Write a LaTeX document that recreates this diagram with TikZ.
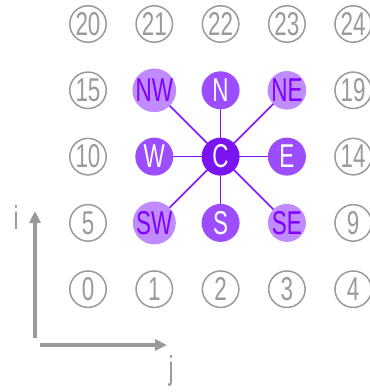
\documentclass[tikz,border=0pt]{standalone}
\usepackage{fontspec}
\setmainfont{Liberation Sans}[FakeStretch=0.68]
\usetikzlibrary{arrows.meta,backgrounds}
\definecolor{gr}{HTML}{9A9A9A}
\definecolor{pc}{HTML}{7B14F2}
\definecolor{pm}{HTML}{9B4DFF}
\definecolor{pl}{HTML}{C08BFF}
\definecolor{pt}{HTML}{7F00FF}
\definecolor{pline}{HTML}{8010FF}
\begin{document}
\begin{tikzpicture}[x=1pt,y=-1pt,
  txt/.style={font=\fontsize{33}{33}\selectfont},
  cell/.style={txt,circle,draw=gr,line width=1.5pt,minimum size=36.5pt,inner sep=0pt,text=gr},
  center/.style={txt,circle,fill=pc,minimum size=38pt,inner sep=0pt,text=white},
  orth/.style={txt,circle,fill=pm,minimum size=38pt,inner sep=0pt,text=white},
  diag/.style={txt,circle,fill=pl,minimum size=38pt,inner sep=0pt,text=pt},
  link/.style={draw=pline,line width=1.7pt},
  axis/.style={draw=gr,line width=3.3pt,-{Triangle[length=12pt,width=11pt]}},
  lab/.style={txt,text=gr,inner sep=0pt}]
\useasboundingbox (0,0) rectangle (370,392);
% row 0 (top)
\node[cell] (n20) at (88,24) {20};
\node[cell] (n21) at (154.3,24) {21};
\node[cell] (n22) at (220.6,24) {22};
\node[cell] (n23) at (286.9,24) {23};
\node[cell] (n24) at (353.2,24) {24};
% row 1
\node[cell] (n15) at (88,90.3) {15};
\node[diag] (NW) at (154.3,90.3) {NW};
\node[orth] (N) at (220.6,90.3) {N};
\node[diag] (NE) at (286.9,90.3) {NE};
\node[cell] (n19) at (353.2,90.3) {19};
% row 2
\node[cell] (n10) at (88,156.6) {10};
\node[orth] (W) at (154.3,156.6) {W};
\node[center] (C) at (220.6,156.6) {C};
\node[orth] (E) at (286.9,156.6) {E};
\node[cell] (n14) at (353.2,156.6) {14};
% row 3
\node[cell] (n5) at (88,222.9) {5};
\node[diag] (SW) at (154.3,222.9) {SW};
\node[orth] (S) at (220.6,222.9) {S};
\node[diag] (SE) at (286.9,222.9) {SE};
\node[cell] (n9) at (353.2,222.9) {9};
% row 4
\node[cell] (n0) at (88,289.2) {0};
\node[cell] (n1) at (154.3,289.2) {1};
\node[cell] (n2) at (220.6,289.2) {2};
\node[cell] (n3) at (286.9,289.2) {3};
\node[cell] (n4) at (353.2,289.2) {4};
% links
\begin{scope}[on background layer]
\foreach \t in {NW,N,NE,W,E,SW,S,SE}
  \draw[link] (C.center) -- (\t.center);
\end{scope}
% axes
\coordinate (ib) at (35,338);
\coordinate (it) at (35,211);
\coordinate (jb) at (40,345);
\coordinate (jt) at (167,345);
\draw[axis] (ib) -- (it);
\draw[axis] (jb) -- (jt);
\node[lab] (li) at (16,218) {i};
\node[lab] (lj) at (171,371) {j};
\end{tikzpicture}
\end{document}
